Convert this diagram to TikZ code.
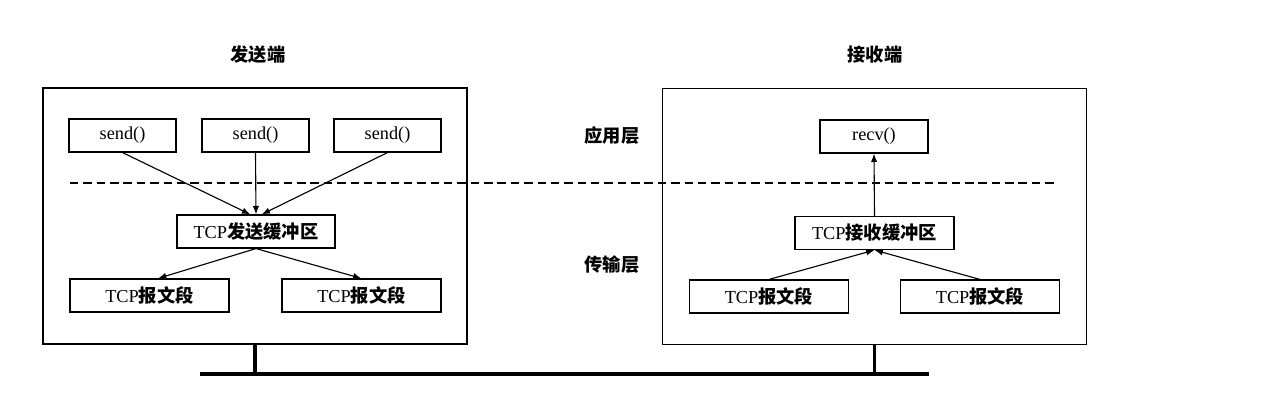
\documentclass[tikz,border=0pt]{standalone}
\usepackage{fontspec}
\setmainfont{Liberation Serif}
\newfontfamily\cjk{Noto Sans CJK SC}
\newcommand\zh[1]{{\cjk\bfseries #1}}
\usetikzlibrary{shapes,arrows.meta}

\begin{document}
\begin{tikzpicture}[x=0.025cm, y=-0.025cm, line width=0.8pt, >={Latex[length=6pt,width=4.5pt]}]
	\useasboundingbox (0,0) rectangle (1280,406);
	\tikzstyle{every node}=[font=\fontsize{13}{15}\selectfont, draw, inner sep=0pt, minimum height=0.825cm]
	\draw (255,216) node[minimum width=10.6cm, minimum height=6.4cm] (sender) {};
	\draw (874.5,216.5) node[minimum width=10.6cm, minimum height=6.4cm] (receiver) {};
	\draw (122.5,135.5) node[minimum width=2.675cm] (send1) {send()};
	\draw (255.5,135.5) node[minimum width=2.675cm] (send2) {send()};
	\draw (387.5,135.5) node[minimum width=2.675cm] (send3) {send()};
	\draw (874,136.5) node[minimum width=2.7cm] (recv) {recv()};
	\draw (256,231.5) node[minimum width=3.95cm] (sbuf) {TCP\zh{发送缓冲区}};
	\draw (874.5,233) node[minimum width=3.975cm] (rbuf) {TCP\zh{接收缓冲区}};
	\draw (149.5,295.5) node[minimum width=3.975cm] (sseg1) {TCP\zh{报文段}};
	\draw (361.5,295.5) node[minimum width=3.975cm] (sseg2) {TCP\zh{报文段}};
	\draw (769,296.5) node[minimum width=3.975cm] (rseg1) {TCP\zh{报文段}};
	\draw (980,296.5) node[minimum width=3.975cm] (rseg2) {TCP\zh{报文段}};
	\tikzstyle{every node}=[font=\fontsize{13}{15}\selectfont, draw=none]
	\draw (258,55) node (stitle) {\zh{发送端}};
	\draw (875,55) node (rtitle) {\zh{接收端}};
	\draw (612,136) node (app) {\zh{应用层}};
	\draw (612,265) node (trans) {\zh{传输层}};
	\coordinate (dashL) at (70,183);
	\coordinate (dashR) at (1057,183);
	\coordinate (busL) at (200,374);
	\coordinate (busR) at (929,374);
	\draw [line width=1pt, dash pattern=on 6pt off 3.5pt] (dashL) -- (dashR);
	\draw [->] (send1.south) -- ([xshift=-4pt]sbuf.north);
	\draw [->] (send2.south) -- (sbuf.north);
	\draw [->] (send3.south) -- ([xshift=4pt]sbuf.north);
	\draw [->] (sbuf.south) -- ([xshift=6pt]sseg1.north);
	\draw [->] (sbuf.south) -- (sseg2.north);
	\draw [->] (rseg1.north) -- (rbuf.south);
	\draw [->] (rseg2.north) -- (rbuf.south);
	\draw [->] (rbuf.north) -- (recv.south);
	\draw [line width=2.2pt] (busL) -- (busR);
	\draw [line width=2.2pt] (sender.south) -- (sender.south |- busL);
	\draw [line width=2.2pt] (receiver.south) -- (receiver.south |- busL);
\end{tikzpicture}
\end{document}
